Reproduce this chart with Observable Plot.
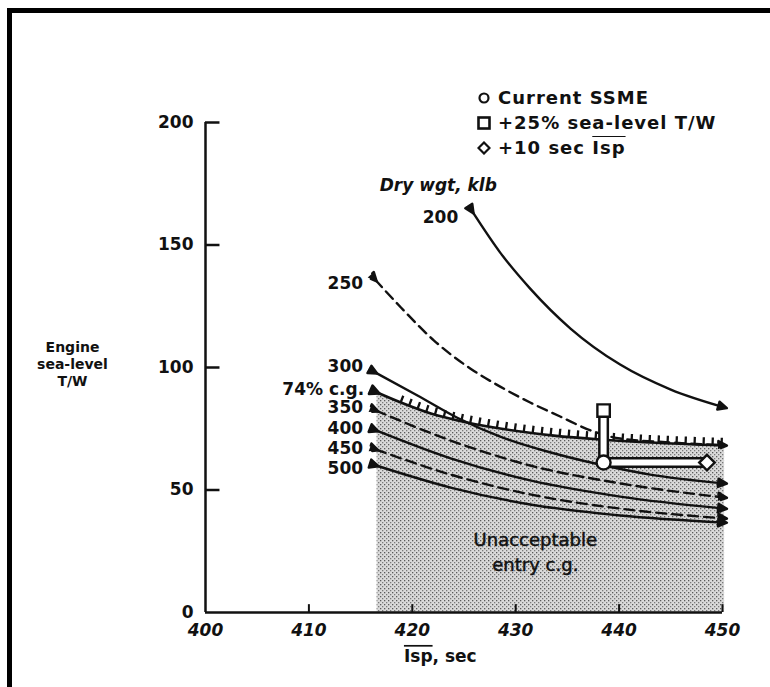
<!DOCTYPE html>
<html>
<head>
<meta charset="utf-8">
<script src="https://cdn.jsdelivr.net/npm/d3@7"></script>
<script src="https://cdn.jsdelivr.net/npm/@observablehq/plot@0.6"></script>
<style>
  html, body { margin: 0; padding: 0; background: #fff; }
  #wrap { position: relative; width: 770px; height: 687px; overflow: hidden; }
  #frame { position: absolute; left: 7px; top: 8px; width: 800px; height: 720px;
           border-top: 5px solid #000; border-left: 5px solid #000; pointer-events: none; }
  #legend { position: absolute; left: 477px; top: 85px; font: bold 18px "DejaVu Sans", sans-serif;
            letter-spacing: 1px; color: #111; }
  #legend .row { display: flex; align-items: center; height: 25px; white-space: nowrap; }
  #legend svg { margin-right: 7px; }
  #legend .ov { text-decoration: overline; }
</style>
</head>
<body>
<div id="wrap">
  <div id="chart"></div>
  <div id="legend"></div>
  <div id="frame"></div>
</div>
<script>
// Axis ticks
const xTicks = [400, 410, 420, 430, 440, 450];
const yTicks = [0, 50, 100, 150, 200];

// Constant dry-weight curves, points as [Isp (sec), engine sea-level T/W]
const curve200 = [[425.8,163.7],[428.5,146.9],[431.4,132.2],[435.3,115.9],[440.1,101.2],[445.0,91.0],[450.2,83.7]];
const curve250 = [[416.4,135.9],[418.9,124.5],[422.1,111.0],[425.6,99.6],[428.5,92.2],[431.4,85.7],[434.3,80.0],[437.5,73.9],[440.1,71.0],[445.0,69.4],[450.2,68.2]];
const curve300 = [[416.4,98.0],[420.5,88.6],[424.4,79.4],[428.5,71.8],[433.4,65.3],[437.9,60.6],[443.0,56.3],[450.2,52.7]];
const curve350 = [[416.5,82.4],[423.7,70.2],[431.4,60.0],[440.1,52.7],[450.2,46.9]];
const curve400 = [[416.5,74.3],[423.7,62.9],[431.4,53.9],[440.1,47.3],[450.2,42.4]];
const curve450 = [[416.5,66.5],[423.7,56.3],[431.4,48.2],[440.1,42.4],[450.2,38.4]];
const curve500 = [[416.5,60.0],[423.7,51.0],[431.4,44.1],[440.1,39.6],[450.2,36.7]];

// 74% c.g. limit: below this line the entry c.g. is unacceptable
const cgLimit = [[416.6,89.8],[418.9,85.7],[421.8,81.2],[424.4,78.4],[428.5,75.1],[433.7,72.2],[438.2,70.6],[443.0,69.4],[450.2,68.2]];

// Engine options
const engineNames = ["Current SSME", "+25% sea-level T/W", "+10 sec Isp"];
const engineIsp = [438.5, 438.5, 448.5];
const engineTW = [61.2, 82.4, 61.2];
const engineSymbols = ["circle", "square", "diamond2"];

// Region note
const noteLines = ["Unacceptable", "entry c.g."];
const noteIsp = [431.9, 431.9];
const noteTW = [29.4, 19.2];

const curves = [
  {name: "200", pts: curve200, dash: false, ldx: -14, ldy: 6},
  {name: "250", pts: curve250, dash: true,  ldx: -12, ldy: 4},
  {name: "300", pts: curve300, dash: false, ldx: -12, ldy: -6},
  {name: "350", pts: curve350, dash: true,  ldx: -13, ldy: -3},
  {name: "400", pts: curve400, dash: false, ldx: -13, ldy: -2},
  {name: "450", pts: curve450, dash: true,  ldx: -13, ldy: -1},
  {name: "500", pts: curve500, dash: false, ldx: -13, ldy: 3}
];

const engines = engineNames.map((name, i) => ({name, isp: engineIsp[i], tw: engineTW[i], symbol: engineSymbols[i]}));
const upgrades = engines.slice(1).map(e => ({x1: engines[0].isp, y1: engines[0].tw, x2: e.isp, y2: e.tw}));

const font = "DejaVu Sans, sans-serif";
const ink = "#111";
const X = d => d[0], Y = d => d[1];
const smooth = "monotone-x";

const marks = [
  // unacceptable region, stippled
  Plot.areaY(cgLimit, {x: X, y: Y, curve: smooth, fill: "url(#stipple)"}),
  // hatch ticks on the c.g. limit
  Plot.line(cgLimit.slice(1), {x: X, y: Y, curve: smooth, stroke: ink, strokeWidth: 7, dy: -4,
    strokeDasharray: "2.3,6.7", strokeLinecap: "butt", strokeLinejoin: "miter"}),
  Plot.line(cgLimit, {x: X, y: Y, curve: smooth, stroke: ink, strokeWidth: 2.6, markerStart: "arrow"}),
  // dry-weight curves
  ...curves.map(c => Plot.line(c.pts, {
    x: X, y: Y, curve: smooth, stroke: ink, strokeWidth: 2.4,
    strokeDasharray: c.dash ? "10,6" : null, markerStart: "arrow", markerEnd: "arrow"
  })),
  ...curves.map(c => Plot.text([c.pts[0]], {
    x: X, y: Y, text: () => c.name, dx: c.ldx, dy: c.ldy, textAnchor: "end",
    fontFamily: font, fontWeight: "bold", fontSize: 17, fill: ink
  })),
  Plot.text([cgLimit[0]], {x: X, y: Y, text: () => "74% c.g.", dx: -13, dy: -3, textAnchor: "end",
    fontFamily: font, fontWeight: "bold", fontSize: 17, fill: ink}),
  Plot.text([curve200[0]], {x: X, y: Y, text: () => "Dry wgt, klb", dx: -34, dy: -26,
    fontFamily: font, fontWeight: "bold", fontStyle: "italic", fontSize: 17, fill: ink}),
  // hollow upgrade arrows from the current engine
  Plot.link(upgrades, {x1: "x1", y1: "y1", x2: "x2", y2: "y2", stroke: ink, strokeWidth: 11}),
  Plot.link(upgrades, {x1: "x1", y1: "y1", x2: "x2", y2: "y2", stroke: "#fff", strokeWidth: 6}),
  Plot.dot(engines, {x: "isp", y: "tw", symbol: "symbol", r: 7, fill: "#fff", stroke: ink, strokeWidth: 2.4}),
  // region note
  Plot.text(noteLines, {x: (d, i) => noteIsp[i], y: (d, i) => noteTW[i], text: d => d,
    fontFamily: font, fontSize: 18, fill: ink, stroke: ink, strokeWidth: 0.5,
    fontStyle: (d, i) => i === 1 ? "italic" : "normal"}),
  // axes
  Plot.ruleX([xTicks[0]], {y1: yTicks[0], y2: yTicks[yTicks.length - 1], stroke: ink, strokeWidth: 2.5}),
  Plot.ruleY([yTicks[0]], {x1: xTicks[0], x2: xTicks[xTicks.length - 1], stroke: ink, strokeWidth: 2.5}),
  Plot.ruleY(yTicks.slice(1), {x1: xTicks[0], x2: xTicks[0] + 1.4, stroke: ink, strokeWidth: 2.5}),
  Plot.ruleX(xTicks.slice(1), {y1: yTicks[0], y2: 3.2, stroke: ink, strokeWidth: 2}),
  Plot.text(yTicks, {x: xTicks[0], y: d => d, dx: -12, textAnchor: "end",
    fontFamily: font, fontWeight: "bold", fontSize: 17, fill: ink}),
  Plot.text(xTicks, {x: d => d, y: yTicks[0], dy: 18, text: d => String(d),
    fontFamily: font, fontWeight: "bold", fontStyle: "italic", fontSize: 17, fill: ink}),
  Plot.text(["Isp, sec"], {x: xTicks[2], y: yTicks[0], dx: 28, dy: 44, text: d => d,
    fontFamily: font, fontWeight: "bold", fontSize: 17, fill: ink}),
  Plot.text(["Engine\nsea-level\nT/W"], {x: xTicks[0], y: 101.5, dx: -133, text: d => d, lineHeight: 1.22,
    fontFamily: font, fontWeight: "bold", fontSize: 14, fill: ink})
];

const svg = Plot.plot({
  width: 770,
  height: 687,
  marginLeft: 205,
  marginRight: 48,
  marginTop: 122,
  marginBottom: 75,
  x: {domain: [400, 450], axis: null},
  y: {domain: [0, 200], axis: null},
  style: {background: "transparent", overflow: "visible"},
  marks
});

// stipple texture for the shaded region
const defs = d3.select(svg).insert("defs", ":first-child");
const pat = defs.append("pattern").attr("id", "stipple").attr("patternUnits", "userSpaceOnUse")
  .attr("width", 4).attr("height", 4);
pat.append("rect").attr("width", 4).attr("height", 4).attr("fill", "#dadada");
pat.append("rect").attr("x", 0).attr("y", 0).attr("width", 1.3).attr("height", 1.3).attr("fill", "#5a5a5a");
pat.append("rect").attr("x", 2).attr("y", 2).attr("width", 1.3).attr("height", 1.3).attr("fill", "#7a7a7a");

// solid arrowheads
d3.select(svg).selectAll("marker").attr("fill", ink).attr("stroke", ink)
  .select("path").attr("d", "M-4,-2.6L1.5,0L-4,2.6Z");

// overline on Isp
d3.select(svg).selectAll("text").each(function () {
  const t = this.textContent;
  if (t === "Isp, sec") {
    this.textContent = "";
    d3.select(this).append("tspan").style("text-decoration", "overline").text("Isp");
    d3.select(this).append("tspan").text(", sec");
  }
});

document.getElementById("chart").appendChild(svg);

// legend
const sym = {
  circle: '<circle cx="7" cy="7" r="4.5" fill="#fff" stroke="#111" stroke-width="2.2"/>',
  square: '<rect x="1.5" y="1.5" width="11" height="11" fill="#fff" stroke="#111" stroke-width="2.6"/>',
  diamond2: '<path d="M7,1.5L12.5,7L7,12.5L1.5,7Z" fill="#fff" stroke="#111" stroke-width="2.2"/>'
};
const legend = document.getElementById("legend");
engines.forEach(e => {
  const row = document.createElement("div");
  row.className = "row";
  const label = e.name.endsWith("Isp") ? e.name.replace("Isp", '<span class="ov">Isp</span>') : e.name;
  row.innerHTML = `<svg width="14" height="14">${sym[e.symbol]}</svg><span>${label}</span>`;
  legend.appendChild(row);
});
</script>
</body>
</html>
